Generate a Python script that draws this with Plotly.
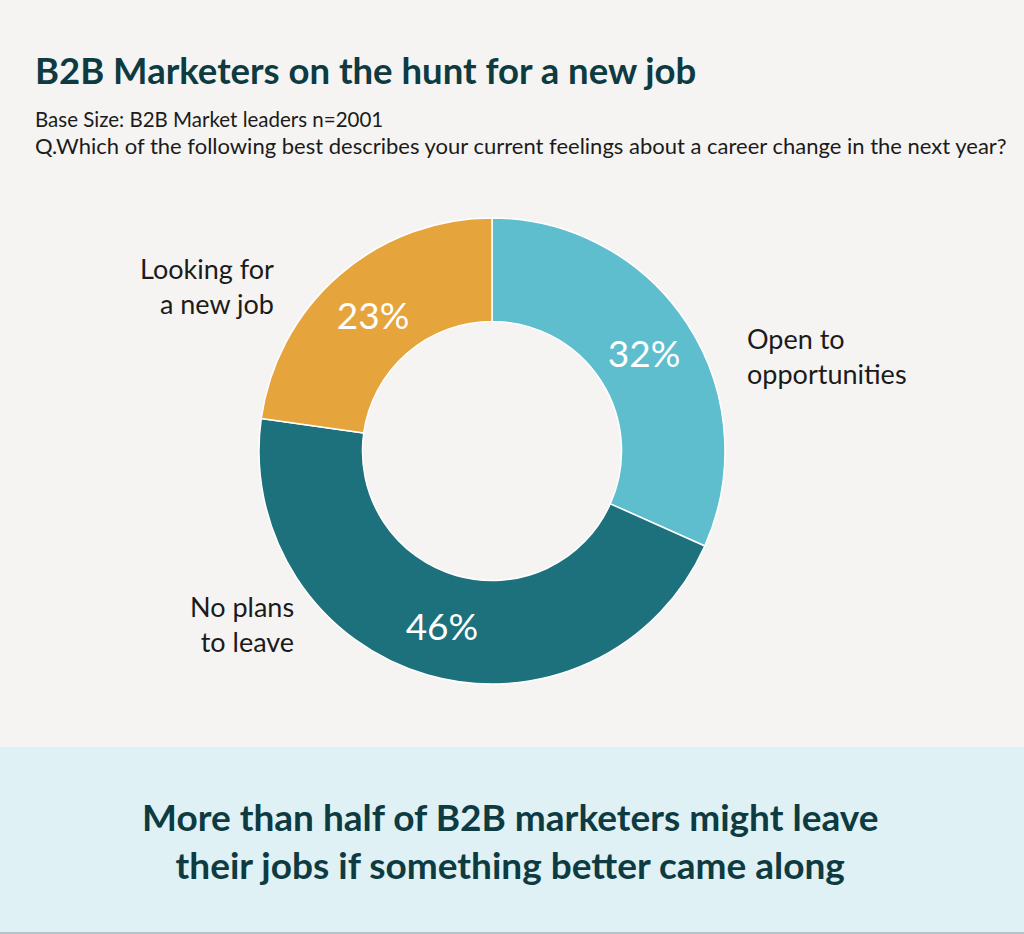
import plotly.graph_objects as go

# ---- data ----
categories = ["Open to opportunities", "No plans to leave", "Looking for a new job"]
values = [32, 46, 23]
slice_colors = ["#5fbecd", "#1c717c", "#e6a43d"]
outer_labels = ["Open to<br>opportunities", "No plans<br>to leave", "Looking for<br>a new job"]

title_text = "B2B Marketers on the hunt for a new job"
subtitle_1 = "Base Size: B2B Market leaders n=2001"
subtitle_2 = "Q.Which of the following best describes your current feelings about a career change in the next year?"
footer_text = "More than half of B2B marketers might leave<br>their jobs if something better came along"

W, H = 1024, 934
BG = "#f5f4f2"
BAND = "#dff1f5"
DARK = "#0e3b41"
TXT = "#1b1b1b"
FONT = "Lato"

def px(x):
    return x / W

def py(y):
    return 1 - y / H

cx, cy, R = 492, 451, 233

fig = go.Figure()
fig.add_trace(go.Pie(
    labels=categories,
    values=values,
    sort=False,
    direction="clockwise",
    rotation=0,
    hole=0.556,
    marker=dict(colors=slice_colors, line=dict(color="#ffffff", width=1.5)),
    texttemplate="%{value}%",
    textposition="inside",
    insidetextorientation="horizontal",
    insidetextfont=dict(family=FONT, size=37, color="#ffffff"),
    showlegend=False,
    hoverinfo="label+percent",
    domain=dict(x=[px(cx - R), px(cx + R)], y=[py(cy + R), py(cy - R)]),
))

annotations = [
    dict(text="<b>" + title_text + "</b>", x=px(33), y=py(70), xanchor="left", yanchor="middle",
         font=dict(family=FONT, size=36.5, color=DARK)),
    dict(text=subtitle_1, x=px(33), y=py(119), xanchor="left", yanchor="middle",
         font=dict(family=FONT, size=20.5, color=TXT)),
    dict(text=subtitle_2, x=px(33), y=py(145), xanchor="left", yanchor="middle",
         font=dict(family=FONT, size=22, color=TXT)),
    dict(text=outer_labels[2], x=px(276), y=py(286), xanchor="right", yanchor="middle", align="right",
         font=dict(family=FONT, size=27, color=TXT)),
    dict(text=outer_labels[0], x=px(745), y=py(356), xanchor="left", yanchor="middle", align="left",
         font=dict(family=FONT, size=27, color=TXT)),
    dict(text=outer_labels[1], x=px(296), y=py(624), xanchor="right", yanchor="middle", align="right",
         font=dict(family=FONT, size=27, color=TXT)),
    dict(text="<b>" + footer_text + "</b>", x=px(510), y=py(840), xanchor="center", yanchor="middle", align="center",
         font=dict(family=FONT, size=37, color=DARK)),
]
for a in annotations:
    a.update(xref="paper", yref="paper", showarrow=False)

fig.update_layout(
    width=W, height=H,
    margin=dict(l=0, r=0, t=0, b=0),
    paper_bgcolor=BG, plot_bgcolor=BG,
    annotations=annotations,
    shapes=[
        dict(type="rect", xref="paper", yref="paper", x0=0, x1=1, y0=0, y1=py(747),
             fillcolor=BAND, line=dict(width=0), layer="below"),
        dict(type="line", xref="paper", yref="paper", x0=0, x1=1, y0=py(933), y1=py(933),
             line=dict(color="#b7c2c5", width=2)),
    ],
)

fig.write_html("out.html",
               config={"displayModeBar": False},
               post_script="document.body.style.margin='0';document.body.style.overflow='hidden';")
